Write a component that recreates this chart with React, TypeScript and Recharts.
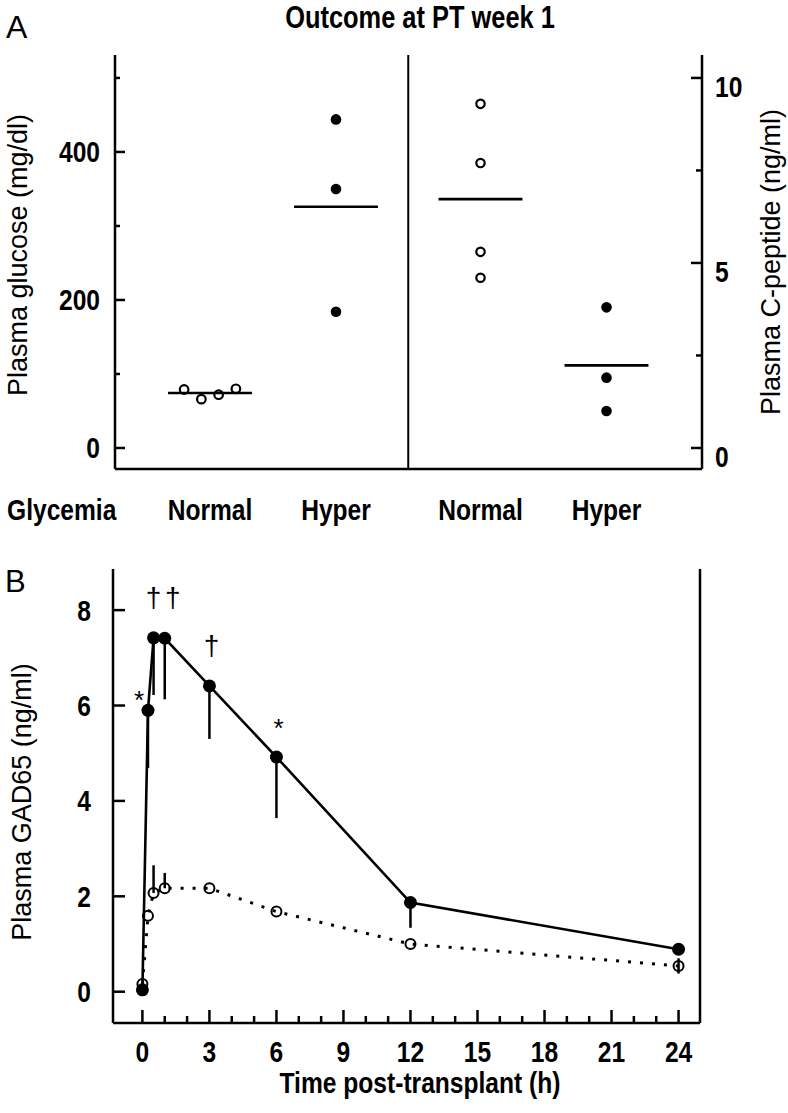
import React from 'react';
import { ComposedChart, Scatter, Line, XAxis, YAxis, ReferenceLine, ErrorBar } from 'recharts';

// ---------- Panel A data ----------
const groupLabels = ['Normal', 'Hyper', 'Normal', 'Hyper'];
const glucoseNormal = [79, 66, 72, 80];
const glucoseHyper = [444, 350, 184];
const cpeptideNormal = [9.3, 7.7, 5.3, 4.6];
const cpeptideHyper = [3.8, 1.9, 1.0];
const glucoseTicks = [0, 100, 200, 300, 400, 500];
const glucoseLabelled = [0, 200, 400];
const cpeptideTicks = [0, 2.5, 5, 7.5, 10];
const cpeptideLabelled = [0, 5, 10];

// ---------- Panel B data ----------
const times = [0, 0.25, 0.5, 1, 3, 6, 12, 24];
const gadHyper = [0.04, 5.9, 7.42, 7.41, 6.41, 4.92, 1.87, 0.89];
const gadHyperErrLow = [0, 1.21, 1.2, 1.28, 1.11, 1.28, 0.53, 0];
const gadNormal = [0.16, 1.59, 2.07, 2.17, 2.17, 1.68, 1.0, 0.54];
const gadNormalErrLow = [0, 0, 0, 0, 0, 0, 0, 0.16];
const gadNormalErrHigh = [0, 0, 0.58, 0.32, 0, 0, 0, 0.16];
const timeTicks = [0, 1, 2, 3, 4, 5, 6, 7, 8, 9, 10, 11, 12, 13, 14, 15, 16, 17, 18, 19, 20, 21, 22, 23, 24];
const timeLabelled = [0, 3, 6, 9, 12, 15, 18, 21, 24];
const gadTicks = [0, 2, 4, 6, 8];
const annotTimes = [0.25, 0.5, 1, 3, 6];
const annotMarks = ['*', '\u2020', '\u2020', '\u2020', '*'];

// ---------- layout / style constants ----------
const SANS = "'Liberation Sans', Arial, sans-serif";
const NARROW_SCALE = 0.82;
const BLACK = '#000';
const GROUP_GAP = 0.147;
const JITTER = 0.137;
const MEAN_HALF = 0.333;
const AXIS_W = 2.5;
// annotation centre offsets from the data point (px)
const ANNOT_OFFSET: [number, number][] = [[-9, -16], [0, -38], [8, -39], [2, -38], [2, -35]];

const groupPos = (i: number) => i + (i >= 2 ? GROUP_GAP : 0);
const DIVIDER = (groupPos(1) + groupPos(2)) / 2;
const mean = (a: number[]) => a.reduce((s, v) => s + v, 0) / a.length;

const gNormalData = glucoseNormal.map((v, i) => ({ x: groupPos(0) + (i - (glucoseNormal.length - 1) / 2) * JITTER, y: v }));
const gHyperData = glucoseHyper.map((v) => ({ x: groupPos(1), y: v }));
const cNormalData = cpeptideNormal.map((v) => ({ x: groupPos(2), y: v }));
const cHyperData = cpeptideHyper.map((v) => ({ x: groupPos(3), y: v }));

const meanSegments = [
  { pos: groupPos(0), m: mean(glucoseNormal), axis: 'g' },
  { pos: groupPos(1), m: mean(glucoseHyper), axis: 'g' },
  { pos: groupPos(2), m: mean(cpeptideNormal), axis: 'c' },
  { pos: groupPos(3), m: mean(cpeptideHyper), axis: 'c' },
];

const gadData = times.map((t, i) => ({
  t,
  hyper: gadHyper[i],
  normal: gadNormal[i],
  hErr: [gadHyperErrLow[i], 0],
  nErr: [gadNormalErrLow[i], gadNormalErrHigh[i]],
}));

// bold condensed text (Liberation Sans Bold squeezed horizontally)
const NText = ({ x, y, anchor = 'start', size = 30, children }: any) => (
  <text
    transform={`translate(${x},${y}) scale(${NARROW_SCALE},1)`}
    textAnchor={anchor}
    style={{ fontFamily: SANS, fontWeight: 700, fontSize: size, fill: BLACK }}
  >
    {children}
  </text>
);

const OpenDot = (r: number, sw: number) => (p: any) => (
  <circle key={`o${p.index}`} cx={p.cx} cy={p.cy} r={r} fill="none" stroke={BLACK} strokeWidth={sw} />
);
const FilledDot = (r: number) => (p: any) => (
  <circle key={`f${p.index}`} cx={p.cx} cy={p.cy} r={r} fill={BLACK} stroke="none" />
);

// Panel A ticks
const A_LEFT_MARGIN = 15;
const GlucoseTick = (props: any) => {
  const { x, y, payload } = props;
  const v = payload.value;
  const major = glucoseLabelled.includes(v);
  const ax = x + A_LEFT_MARGIN;
  return (
    <g>
      <line x1={ax} x2={ax + (major ? 10 : 5)} y1={y} y2={y} stroke={BLACK} strokeWidth={AXIS_W} />
      {major && <NText x={x} y={y + 10.5} anchor="end">{v}</NText>}
    </g>
  );
};
const A_RIGHT_MARGIN = 13;
const CpepTick = (props: any) => {
  const { x, y, payload } = props;
  const v = payload.value;
  const major = cpeptideLabelled.includes(v);
  const ax = x - A_RIGHT_MARGIN;
  return (
    <g>
      <line x1={ax} x2={ax - (major ? 11 : 6)} y1={y} y2={y} stroke={BLACK} strokeWidth={AXIS_W} />
      {major && <NText x={x} y={y + 19}>{v}</NText>}
    </g>
  );
};
const GroupTick = (props: any) => {
  const { x, y, payload } = props;
  const idx = [0, 1, 2, 3].find((i) => Math.abs(groupPos(i) - payload.value) < 1e-6) ?? 0;
  return <NText x={x} y={y + 51} anchor="middle">{groupLabels[idx]}</NText>;
};

// Panel B ticks
const B_LEFT_MARGIN = 22;
const GadTick = (props: any) => {
  const { x, y, payload } = props;
  const v = payload.value;
  const ax = x + B_LEFT_MARGIN;
  return (
    <g>
      <line x1={ax} x2={ax + 12} y1={y} y2={y} stroke={BLACK} strokeWidth={AXIS_W} />
      <NText x={x} y={y + 10.5} anchor="end">{v}</NText>
    </g>
  );
};
const TimeTick = (props: any) => {
  const { x, y, payload } = props;
  const v = payload.value;
  const major = timeLabelled.includes(v);
  return (
    <g>
      <line x1={x} x2={x} y1={y} y2={y - (major ? 13 : 7)} stroke={BLACK} strokeWidth={AXIS_W} />
      {major && <NText x={x} y={y + 39} anchor="middle">{v}</NText>}
    </g>
  );
};

const HyperDot = (p: any) => {
  const ai = annotTimes.indexOf(p.payload.t);
  const mark = ai >= 0 ? annotMarks[ai] : null;
  const [dx, dy] = ai >= 0 ? ANNOT_OFFSET[ai] : [0, 0];
  const isStar = mark === '*';
  return (
    <g key={`h${p.index}`}>
      <circle cx={p.cx} cy={p.cy} r={6.5} fill={BLACK} />
      {mark && (
        <text
          x={p.cx + dx}
          y={p.cy + dy + (isStar ? 15 : 7.5)}
          textAnchor="middle"
          style={{ fontFamily: SANS, fontSize: isStar ? 26 : 28, fill: BLACK }}
        >
          {mark}
        </text>
      )}
    </g>
  );
};

const PanelA = () => (
  <ComposedChart width={788} height={540} margin={{ top: 55, right: 0, bottom: 0, left: 0 }}>
    <XAxis
      xAxisId="main"
      type="number"
      dataKey="x"
      domain={[-0.754, 3.905]}
      allowDataOverflow
      ticks={[0, 1, 2, 3].map(groupPos)}
      interval={0}
      height={71}
      tickSize={0}
      tickMargin={0}
      tickLine={false}
      tick={<GroupTick />}
      axisLine={{ stroke: BLACK, strokeWidth: AXIS_W }}
    />
    <XAxis
      xAxisId="top"
      orientation="top"
      type="number"
      dataKey="x"
      domain={[-0.754, 3.905]}
      allowDataOverflow
      height={0}
      tick={false}
      tickLine={false}
      axisLine={{ stroke: BLACK, strokeWidth: AXIS_W }}
    />
    <YAxis
      yAxisId="g"
      type="number"
      dataKey="y"
      domain={[-28.4, 531]}
      allowDataOverflow
      ticks={glucoseTicks}
      interval={0}
      width={115}
      tickSize={0}
      tickMargin={A_LEFT_MARGIN}
      tickLine={false}
      tick={<GlucoseTick />}
      axisLine={{ stroke: BLACK, strokeWidth: AXIS_W }}
    />
    <YAxis
      yAxisId="c"
      orientation="right"
      type="number"
      dataKey="y"
      domain={[-0.568, 10.62]}
      allowDataOverflow
      ticks={cpeptideTicks}
      interval={0}
      width={86}
      tickSize={0}
      tickMargin={A_RIGHT_MARGIN}
      tickLine={false}
      tick={<CpepTick />}
      axisLine={{ stroke: BLACK, strokeWidth: AXIS_W }}
    />
    <ReferenceLine xAxisId="main" yAxisId="g" x={DIVIDER} stroke={BLACK} strokeWidth={2} />
    {meanSegments.map((s, i) => (
      <ReferenceLine
        key={`m${i}`}
        xAxisId="main"
        yAxisId={s.axis}
        segment={[{ x: s.pos - MEAN_HALF, y: s.m }, { x: s.pos + MEAN_HALF, y: s.m }]}
        stroke={BLACK}
        strokeWidth={2.6}
      />
    ))}
    <Scatter xAxisId="main" yAxisId="g" data={gNormalData} shape={OpenDot(4.3, 2.2)} isAnimationActive={false} />
    <Scatter xAxisId="main" yAxisId="g" data={gHyperData} shape={FilledDot(5.3)} isAnimationActive={false} />
    <Scatter xAxisId="main" yAxisId="c" data={cNormalData} shape={OpenDot(4.2, 2.2)} isAnimationActive={false} />
    <Scatter xAxisId="main" yAxisId="c" data={cHyperData} shape={FilledDot(5.3)} isAnimationActive={false} />
  </ComposedChart>
);

const PanelB = () => (
  <ComposedChart width={788} height={573} data={gadData} margin={{ top: 29, right: 0, bottom: 0, left: 0 }}>
    <XAxis
      xAxisId="main"
      type="number"
      dataKey="t"
      domain={[-1.316, 24.96]}
      allowDataOverflow
      ticks={timeTicks}
      interval={0}
      height={90}
      tickSize={0}
      tickMargin={0}
      tickLine={false}
      tick={<TimeTick />}
      axisLine={{ stroke: BLACK, strokeWidth: AXIS_W }}
    />
    <XAxis
      xAxisId="top"
      orientation="top"
      type="number"
      dataKey="t"
      domain={[-1.316, 24.96]}
      allowDataOverflow
      height={0}
      tick={false}
      tickLine={false}
      axisLine={{ stroke: BLACK, strokeWidth: AXIS_W }}
    />
    <YAxis
      yAxisId="gad"
      type="number"
      domain={[-0.656, 8.862]}
      allowDataOverflow
      ticks={gadTicks}
      interval={0}
      width={113}
      tickSize={0}
      tickMargin={B_LEFT_MARGIN}
      tickLine={false}
      tick={<GadTick />}
      axisLine={{ stroke: BLACK, strokeWidth: AXIS_W }}
    />
    <YAxis
      yAxisId="frame"
      orientation="right"
      type="number"
      domain={[-0.656, 8.862]}
      allowDataOverflow
      width={88}
      tick={false}
      tickLine={false}
      axisLine={{ stroke: BLACK, strokeWidth: AXIS_W }}
    />
    <Line
      xAxisId="main"
      yAxisId="gad"
      type="linear"
      dataKey="normal"
      stroke={BLACK}
      strokeWidth={3}
      strokeDasharray="3 9"
      dot={OpenDot(5, 2)}
      activeDot={false}
      isAnimationActive={false}
    >
      <ErrorBar dataKey="nErr" direction="y" width={0} stroke={BLACK} strokeWidth={2.5} isAnimationActive={false} />
    </Line>
    <Line
      xAxisId="main"
      yAxisId="gad"
      type="linear"
      dataKey="hyper"
      stroke={BLACK}
      strokeWidth={2.6}
      dot={HyperDot}
      activeDot={false}
      isAnimationActive={false}
    >
      <ErrorBar dataKey="hErr" direction="y" width={0} stroke={BLACK} strokeWidth={2.5} isAnimationActive={false} />
    </Line>
  </ComposedChart>
);

const Overlay = () => (
  <svg width={788} height={1113} style={{ position: 'absolute', left: 0, top: 0, pointerEvents: 'none' }}>
    <text x={6} y={38} style={{ fontFamily: SANS, fontSize: 32, fill: BLACK }}>A</text>
    <NText x={420} y={28} anchor="middle" size={31}>Outcome at PT week 1</NText>
    <text transform="translate(27,255) rotate(-90)" textAnchor="middle" style={{ fontFamily: SANS, fontSize: 27, fill: BLACK }}>
      Plasma glucose (mg/dl)
    </text>
    <text transform="translate(780,262) rotate(-90)" textAnchor="middle" style={{ fontFamily: SANS, fontSize: 27, fill: BLACK }}>
      Plasma C-peptide (ng/ml)
    </text>
    <NText x={7} y={520}>Glycemia</NText>
    <text x={5} y={592} style={{ fontFamily: SANS, fontSize: 31, fill: BLACK }}>B</text>
    <text transform="translate(31,802) rotate(-90)" textAnchor="middle" style={{ fontFamily: SANS, fontSize: 27, fill: BLACK }}>
      Plasma GAD65 (ng/ml)
    </text>
    <NText x={420} y={1093} anchor="middle">Time post-transplant (h)</NText>
  </svg>
);

export default function App() {
  return (
    <div style={{ position: 'absolute', left: 0, top: 0, width: 788, height: 1113, background: '#fff' }}>
      <div style={{ position: 'absolute', left: 0, top: 0 }}>
        <PanelA />
      </div>
      <div style={{ position: 'absolute', left: 0, top: 540 }}>
        <PanelB />
      </div>
      <Overlay />
    </div>
  );
}
